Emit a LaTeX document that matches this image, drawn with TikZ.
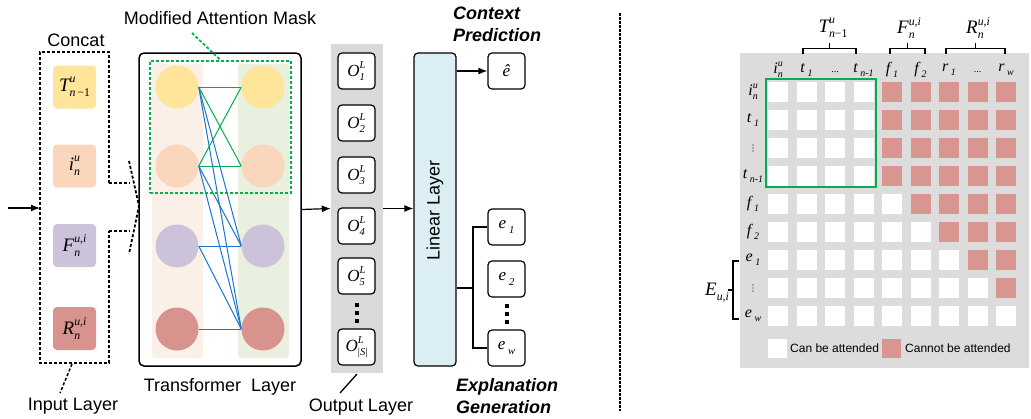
\documentclass[tikz,border=0pt]{standalone}
\usepackage{fontspec}
\setmainfont{Liberation Sans}
\newfontfamily\tms{Liberation Serif}
\usetikzlibrary{arrows.meta}
\makeatletter
\newcommand\scr{\edef\mytmpsz{\the\dimexpr\f@size pt*62/100\relax}\fontsize{\mytmpsz}{\mytmpsz}\selectfont}
\makeatother
\newsavebox\bsup
\newsavebox\bsub
\newcommand\SP[3]{\mbox{\tms\itshape #1\sbox\bsup{\scr #2}\sbox\bsub{\scr #3}\ifdim\wd\bsup>\wd\bsub \rlap{\raisebox{-0.55ex}{\usebox\bsub}}\raisebox{1.0ex}{\usebox\bsup}\else\rlap{\raisebox{1.0ex}{\usebox\bsup}}\raisebox{-0.55ex}{\usebox\bsub}\fi}}
\definecolor{cT}{HTML}{FEE599}
\definecolor{cI}{HTML}{F9D6BC}
\definecolor{cF}{HTML}{CCC3DB}
\definecolor{cR}{HTML}{D8938E}
\definecolor{bgL}{HTML}{FBF0E8}
\definecolor{bgR}{HTML}{E9F0E0}
\definecolor{grayO}{HTML}{D9D9D9}
\definecolor{linC}{HTML}{DAEEF3}
\definecolor{gridbg}{HTML}{DCDCDC}
\definecolor{pinkc}{HTML}{D9958F}
\definecolor{gr}{HTML}{00B050}
\definecolor{bl}{HTML}{1874CD}
\begin{document}
\begin{tikzpicture}[x=1pt,y=-1pt,
  lab/.style={font=\fontsize{18}{21}\selectfont, inner sep=0pt},
  blab/.style={font=\fontsize{18}{22}\selectfont\bfseries\itshape, inner sep=0pt, align=left, anchor=west},
  inbox/.style={rounded corners=4pt, minimum width=43pt, minimum height=43pt, inner sep=0pt, font=\fontsize{19}{19}\selectfont},
  circ/.style={circle, minimum size=43pt, inner sep=0pt},
  obox/.style={draw, line width=1.2pt, rounded corners=4pt, fill=white, minimum width=37pt, minimum height=36pt, inner sep=0pt, font=\fontsize{17}{17}\selectfont},
  arr/.style={line width=1.2pt, -{Latex[length=9pt,width=7pt]}},
  cell/.style={minimum size=20pt, inner sep=0pt},
  glab/.style={font=\fontsize{16}{16}\selectfont, inner sep=0pt},
  dsh/.style={line width=1.8pt, dash pattern=on 3pt off 2pt},
  brc/.style={line width=1.5pt},
  dotc/.style={inner sep=0pt}
]
\useasboundingbox (0,0) rectangle (1031,418);

% ---------------- Input layer ----------------
\node[inbox, fill=cT] (inT) at (74.5,87) {\SP{T}{u}{n\textup{\,−1}}};
\node[inbox, fill=cI] (inI) at (74.5,166) {\SP{i}{u}{n}};
\node[inbox, fill=cF] (inF) at (74.5,245.5) {\SP{F}{u,i}{n}};
\node[inbox, fill=cR] (inR) at (74.5,328.5) {\SP{R}{u,i}{n}};
\draw[dsh] (109,183) -- (109,52) -- (40,52) -- (40,363) -- (109,363) -- (109,231);
\draw[dsh] (109,183) -- (130,183);
\draw[dsh] (109,231) -- (130,231);
\coordinate (brTip) at (139,206);
\draw[dsh] (129,161) -- (brTip) -- (129,254);
\coordinate (inS) at (8,208);
\coordinate (inE) at (40,208);
\draw[arr] (inS) -- (inE);
\node[lab] (concat) at (76,40) {Concat};
\coordinate (ilA) at (72,364);
\coordinate (ilB) at (60,393);
\draw[dsh, line width=1.5pt] (ilA) -- (ilB);
\node[lab] (inlab) at (73,406) {Input Layer};

% ---------------- Transformer ----------------
\node[fill=bgL, rounded corners=3pt, minimum width=51pt, minimum height=294pt, inner sep=0pt] (colL) at (177.5,211) {};
\node[fill=bgR, rounded corners=3pt, minimum width=51pt, minimum height=294pt, inner sep=0pt] (colR) at (263.5,211) {};
\node[circ, fill=cT] (l1) at (177,87) {};
\node[circ, fill=cI] (l2) at (177,166) {};
\node[circ, fill=cF] (l3) at (177,246) {};
\node[circ, fill=cR] (l4) at (177,329) {};
\node[circ, fill=cT] (r1) at (263,87) {};
\node[circ, fill=cI] (r2) at (263,166) {};
\node[circ, fill=cF] (r3) at (263,246) {};
\node[circ, fill=cR] (r4) at (263,329) {};
\begin{scope}[line width=1pt, gr]
\draw (l1.east) -- (r1.west);
\draw (l1.east) -- (r2.west);
\draw (l2.east) -- (r1.west);
\draw (l2.east) -- (r2.west);
\end{scope}
\begin{scope}[line width=1pt, bl]
\draw (l1.east) -- (r3.west);
\draw (l1.east) -- (r4.west);
\draw (l2.east) -- (r3.west);
\draw (l2.east) -- (r4.west);
\draw (l3.east) -- (r3.west);
\draw (l3.east) -- (r4.west);
\draw (l4.east) -- (r4.west);
\end{scope}
\node[draw=gr, dsh, minimum width=141pt, minimum height=132pt, inner sep=0pt] (mask) at (220.5,127) {};
\node[draw, line width=1.5pt, rounded corners=5pt, minimum width=162pt, minimum height=313pt, inner sep=0pt] (tf) at (220,209.5) {};
\node[lab] (masklab) at (220,18) {Modified Attention Mask};
\coordinate (mkA) at (192,33);
\draw[gr, dsh] (mkA) -- (mask.north);
\node[lab] (tflab) at (220,387) {Transformer\ \ Layer};

% ---------------- Output layer ----------------
\node[fill=grayO, minimum width=52pt, minimum height=329pt, inner sep=0pt] (outbg) at (357,208.5) {};
\draw[arr] (tf.east) -- (outbg.west);
\node[obox] (o1) at (356.5,71) {\SP{O}{L}{1}};
\node[obox] (o2) at (356.5,123) {\SP{O}{L}{2}};
\node[obox] (o3) at (356.5,175) {\SP{O}{L}{3}};
\node[obox] (o4) at (356.5,226) {\SP{O}{L}{4}};
\node[obox] (o5) at (356.5,276) {\SP{O}{L}{5}};
\node[obox] (o6) at (356.5,347) {\SP{O}{L}{\textup{|}S\textup{|}}};
\foreach \yy in {303,311,319}{\fill (355,\yy) rectangle (358.5,\yy+4);}
\coordinate (olA) at (357,374);
\coordinate (olB) at (340,393);
\draw[line width=1.3pt] (olA) -- (olB);
\node[lab] (outlab) at (361,407) {Output Layer};

% ---------------- Linear layer ----------------
\node[draw, line width=1.2pt, fill=linC, rounded corners=4pt, minimum width=42pt, minimum height=313pt, inner sep=0pt] (lin) at (435,209.5) {};
\node[lab, rotate=90] (linlab) at (435,210) {Linear Layer};
\draw[arr] (outbg.east) -- (lin.west |- outbg.east);
\node[obox] (eh) at (506.5,71) {\tms\itshape\^{e}};
\draw[arr] (lin.east |- eh.west) -- (eh.west);
\node[blab] (ctx) at (453,24) {Context\\Prediction};
\node[obox] (e1) at (506.5,227) {\SP{e\,}{}{1}};
\node[obox] (e2) at (506.5,279) {\SP{e\,}{}{2}};
\node[obox] (ew) at (506.5,348) {\SP{e\,}{}{w}};
\foreach \yy in {304,312,320}{\fill (505,\yy) rectangle (508.5,\yy+4);}
\coordinate (jn) at (473,288);
\draw[line width=2.6pt] (lin.east |- jn) -- (jn);
\draw[line width=1.2pt] (e1.west) -| (jn) |- (ew.west);
\node[blab] (expl) at (456,396) {Explanation\\Generation};

% ---------------- divider ----------------
\coordinate (dvA) at (620,13);
\coordinate (dvB) at (620,411);
\draw[line width=2pt, dash pattern=on 2.5pt off 1.5pt] (dvA) -- (dvB);

% ---------------- mask matrix ----------------
\node[fill=gridbg, minimum width=289pt, minimum height=315pt, inner sep=0pt] (gbg) at (884.5,210.5) {};
\foreach \r in {0,...,8}{
  \foreach \c in {0,...,8}{
    \pgfmathtruncatemacro\w{max(4,\r+1)}
    \ifnum\c<\w \def\cc{white}\else\def\cc{pinkc}\fi
    \node[cell, fill=\cc] (g-\r-\c) at ({778+28.5*\c},{92+28*\r}) {};
  }
}
\draw[gr, line width=2pt] (766,79) rectangle (876,187);
% column labels
\node[glab] (cl0) at (778,70) {\SP{i}{u}{n}};
\node[glab] (cl1) at (806.5,70) {\SP{t\,}{}{1}};
\node[glab] (cl2) at (835,72) {\tms\fontsize{10}{10}\selectfont ...};
\node[glab] (cl3) at (863.5,70) {\SP{t\,}{}{n-1}};
\node[glab] (cl4) at (892,70) {\SP{f\,}{}{1}};
\node[glab] (cl5) at (920.5,70) {\SP{f\,}{}{2}};
\node[glab] (cl6) at (949,70) {\SP{r\,}{}{1}};
\node[glab] (cl7) at (977.5,72) {\tms\fontsize{10}{10}\selectfont ...};
\node[glab] (cl8) at (1006,70) {\SP{r\,}{}{w}};
% row labels
\node[glab] (rl0) at (753,92) {\SP{i}{u}{n}};
\node[glab] (rl1) at (753,120) {\SP{t\,}{}{1}};
\foreach \yy in {145,148,151}{\fill (753,\yy) circle (0.6pt);}
\node[glab] (rl3) at (753,176) {\SP{t\,}{}{n-1}};
\node[glab] (rl4) at (753,204) {\SP{f\,}{}{1}};
\node[glab] (rl5) at (753,232) {\SP{f\,}{}{2}};
\node[glab] (rl6) at (753,260) {\SP{e\,}{}{1}};
\foreach \yy in {285,288,291}{\fill (753,\yy) circle (0.6pt);}
\node[glab] (rl8) at (753,316) {\SP{e\,}{}{w}};
% top braces
\draw[brc] (803,54) -- (803,48.5) -- (856,48.5) -- (856,54);
\draw[brc] (829.5,48.5) -- (829.5,43);
\draw[brc] (890,54) -- (890,48.5) -- (925,48.5) -- (925,54);
\draw[brc] (907.5,48.5) -- (907.5,43);
\draw[brc] (946,54) -- (946,48.5) -- (1005,48.5) -- (1005,54);
\draw[brc] (975.5,48.5) -- (975.5,43);
\node[glab, font=\fontsize{19}{19}\selectfont] (TL) at (833,28) {\SP{T}{u}{n\textup{−1}}};
\node[glab, font=\fontsize{19}{19}\selectfont] (FL) at (909,28) {\SP{F}{u,i}{n}};
\node[glab, font=\fontsize{19}{19}\selectfont] (RL) at (978,28) {\SP{R}{u,i}{n}};
% left brace
\draw[brc] (739,261) -- (733,261) -- (733,319) -- (739,319);
\draw[brc] (733,290) -- (728,290);
\node[glab, font=\fontsize{19}{19}\selectfont] (EL) at (717,293) {\SP{E}{}{u,i}};
% legend
\node[cell, fill=white, minimum size=19pt] (lgw) at (777.5,348) {};
\node[anchor=west, inner sep=0pt, font=\fontsize{12}{12}\selectfont] (lgwt) at (790,348) {Can be attended};
\node[cell, fill=pinkc, minimum size=19pt] (lgp) at (891.5,348) {};
\node[anchor=west, inner sep=0pt, font=\fontsize{12}{12}\selectfont] (lgpt) at (905,348) {Cannot be attended};
\end{tikzpicture}
\end{document}
